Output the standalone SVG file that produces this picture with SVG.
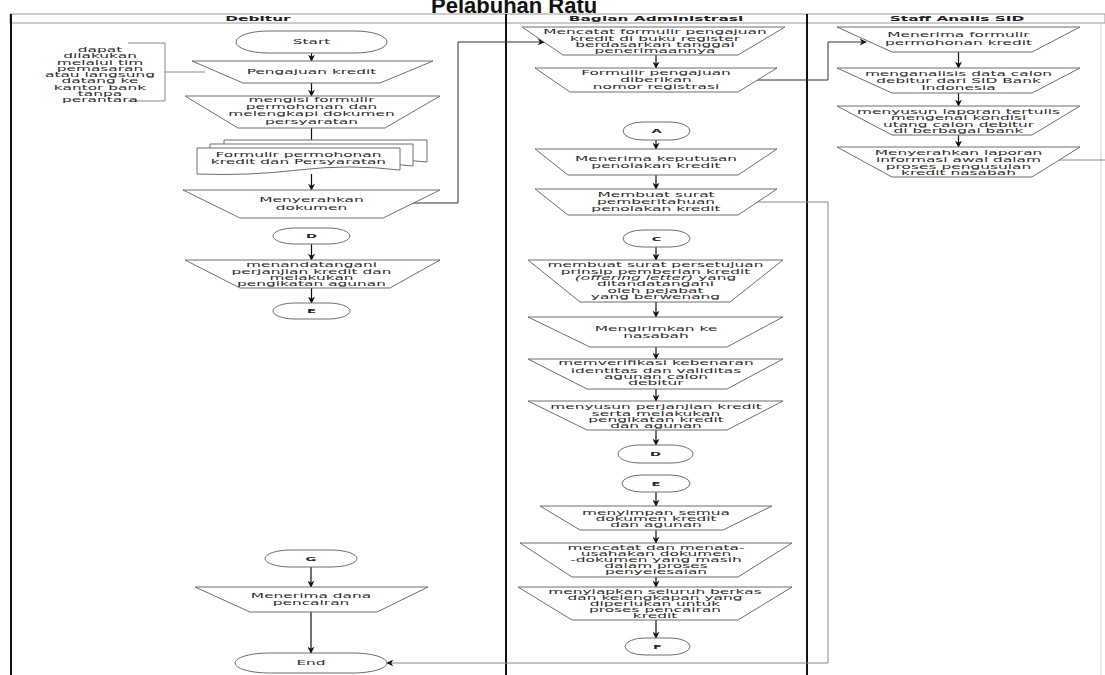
<svg xmlns="http://www.w3.org/2000/svg" width="1105" height="675" viewBox="0 0 1105 675">
<style>
.bg{fill:#fff}
.sh{fill:#fff;stroke:#6e6e6e;stroke-width:1}
.lane{stroke:#111;stroke-width:2;fill:none}
.hdr{fill:#fff;stroke:#9a9a9a;stroke-width:1}
.t{font-family:"DejaVu Sans",sans-serif;font-size:7px;fill:#2a2a2a;text-anchor:middle}
.h{font-family:"DejaVu Sans",sans-serif;font-size:7px;font-weight:bold;fill:#222;text-anchor:middle}
.o{font-family:"DejaVu Sans",sans-serif;font-size:6px;font-weight:bold;fill:#222;text-anchor:middle}
.title{font-family:"Liberation Sans",Arial,sans-serif;font-size:22px;font-weight:bold;fill:#111}
.c{fill:none;stroke:#111;stroke-width:1.2}
.cg{fill:none;stroke:#8a8a8a;stroke-width:1}
.cd{fill:none;stroke:#333;stroke-width:1}
</style>
<defs>
<marker id="ah" viewBox="0 0 10 10" refX="9" refY="5" markerWidth="7" markerHeight="7" orient="auto" markerUnits="userSpaceOnUse">
<path d="M0,0 L10,5 L0,10 L3,5 z" fill="#111"/>
</marker>
</defs>
<rect class="bg" x="0" y="0" width="1105" height="675"/>
<text class="title" x="431" y="12.5">Pelabuhan Ratu</text>

<g id="lanes">
<rect class="hdr" x="10" y="14" width="1095" height="9"/>
<line x1="1101" y1="23" x2="1101" y2="675" stroke="#d6d6d6" stroke-width="1"/>
<line class="lane" x1="11" y1="14" x2="11" y2="675"/>
<line class="lane" x1="506" y1="14" x2="506" y2="675"/>
<line class="lane" x1="807" y1="14" x2="807" y2="675"/>
<g transform="translate(258 0) scale(2.2 1)"><text class="h" x="0" y="21">Debitur</text></g>
<g transform="translate(656 0) scale(2.2 1)"><text class="h" x="0" y="21">Bagian Administrasi</text></g>
<g transform="translate(957 0) scale(2.2 1)"><text class="h" x="0" y="21">Staff Analis SID</text></g>
</g>

<g id="connectors">
<line class="c" x1="311.5" y1="53" x2="311.5" y2="61" marker-end="url(#ah)"/>
<line class="c" x1="311.5" y1="83" x2="311.5" y2="96" marker-end="url(#ah)"/>
<line class="c" x1="311.5" y1="128" x2="311.5" y2="147" marker-end="url(#ah)"/>
<line class="c" x1="311.5" y1="174" x2="311.5" y2="190" marker-end="url(#ah)"/>
<line class="c" x1="311.5" y1="244" x2="311.5" y2="260" marker-end="url(#ah)"/>
<line class="c" x1="311.5" y1="288" x2="311.5" y2="303" marker-end="url(#ah)"/>
<line class="c" x1="311" y1="567" x2="311" y2="587" marker-end="url(#ah)"/>
<line class="c" x1="311" y1="612" x2="311" y2="653" marker-end="url(#ah)"/>
<polyline class="cd" points="413,203 458,203 458,42 544,42" marker-end="url(#ah)"/>
<line class="c" x1="656" y1="55" x2="656" y2="68" marker-end="url(#ah)"/>
<polyline class="cd" points="757,80 828,80 828,42 866,42" marker-end="url(#ah)"/>
<line class="c" x1="656" y1="140" x2="656" y2="149" marker-end="url(#ah)"/>
<line class="c" x1="656" y1="175" x2="656" y2="189" marker-end="url(#ah)"/>
<polyline class="cg" points="757,202 828,202 828,663 387,663" marker-end="url(#ah)"/>
<line class="c" x1="656" y1="247" x2="656" y2="260" marker-end="url(#ah)"/>
<line class="c" x1="656" y1="302" x2="656" y2="317" marker-end="url(#ah)"/>
<line class="c" x1="656" y1="347" x2="656" y2="359" marker-end="url(#ah)"/>
<line class="c" x1="656" y1="389" x2="656" y2="401" marker-end="url(#ah)"/>
<line class="c" x1="656" y1="430" x2="656" y2="445" marker-end="url(#ah)"/>
<line class="c" x1="656" y1="492" x2="656" y2="506" marker-end="url(#ah)"/>
<line class="c" x1="656" y1="530" x2="656" y2="543" marker-end="url(#ah)"/>
<line class="c" x1="656" y1="577" x2="656" y2="587" marker-end="url(#ah)"/>
<line class="c" x1="656" y1="620" x2="656" y2="638" marker-end="url(#ah)"/>
<line class="c" x1="958.5" y1="52" x2="958.5" y2="68" marker-end="url(#ah)"/>
<line class="c" x1="958.5" y1="93" x2="958.5" y2="106" marker-end="url(#ah)"/>
<line class="c" x1="958.5" y1="135" x2="958.5" y2="147" marker-end="url(#ah)"/>
<line class="cg" x1="1059" y1="160" x2="1105" y2="160"/>
</g>

<g id="n-note">
<path class="cg" d="M128,43 H165 V101 H128 M165,72 H205"/>
<g transform="translate(100 0) scale(2.2 1)"><text class="t">
<tspan x="0" y="52">dapat</tspan><tspan x="0" y="58.3">dilakukan</tspan><tspan x="0" y="64.6">melalui tim</tspan><tspan x="0" y="70.9">pemasaran</tspan><tspan x="0" y="77.2">atau langsung</tspan><tspan x="0" y="83.5">datang ke</tspan><tspan x="0" y="89.8">kantor bank</tspan><tspan x="0" y="96.1">tanpa</tspan><tspan x="0" y="102.4">perantara</tspan>
</text></g>
</g>

<g id="n-start">
<rect class="sh" x="236" y="31" width="151" height="22" rx="32" ry="11"/>
<g transform="translate(311.5 0) scale(2.2 1)"><text class="t" x="0" y="44.5">Start</text></g>
</g>
<g id="n-pengajuan">
<polygon class="sh" points="192,61 433,61 380,83 243,83"/>
<g transform="translate(311.5 0) scale(2.2 1)"><text class="t" x="0" y="74.5">Pengajuan kredit</text></g>
</g>
<g id="n-mengisi">
<polygon class="sh" points="185,96 440,96 385,128 238,128"/>
<g transform="translate(311.5 0) scale(2.2 1)"><text class="t"><tspan x="0" y="102.5">mengisi formulir</tspan><tspan x="0" y="109.5">permohonan dan</tspan><tspan x="0" y="116.5">melengkapi dokumen</tspan><tspan x="0" y="124">persyaratan</tspan></text></g>
</g>
<g id="n-formulir-doc">
<path class="sh" d="M224,140 H427 V162 Q376,156 325.5,162 T224,164 Z"/>
<path class="sh" d="M210,144 H413 V166 Q362,160 311.5,166 T210,168 Z"/>
<path class="sh" d="M197,148 H400 V170 Q349,164 298.5,170 T197,174 Z" stroke-width="1.3"/>
<g transform="translate(298.5 0) scale(2.2 1)"><text class="t"><tspan x="0" y="157.5">Formulir permohonan</tspan><tspan x="0" y="164.5">kredit dan Persyaratan</tspan></text></g>
</g>
<g id="n-menyerahkan">
<polygon class="sh" points="183,190 440,190 383,218 240,218"/>
<g transform="translate(311.5 0) scale(2.2 1)"><text class="t"><tspan x="0" y="202.5">Menyerahkan</tspan><tspan x="0" y="210">dokumen</tspan></text></g>
</g>
<g id="n-d1">
<rect class="sh" x="273" y="228" width="77" height="16" rx="22" ry="8"/>
<g transform="translate(311.5 0) scale(2.2 1)"><text class="o" x="0" y="238.2">D</text></g>
</g>
<g id="n-menandatangani">
<polygon class="sh" points="185,260 440,260 390,288 240,288"/>
<g transform="translate(311.5 0) scale(2.2 1)"><text class="t"><tspan x="0" y="267.2">menandatangani</tspan><tspan x="0" y="273.6">perjanjian kredit dan</tspan><tspan x="0" y="279.8">melakukan</tspan><tspan x="0" y="286">pengikatan agunan</tspan></text></g>
</g>
<g id="n-e1">
<rect class="sh" x="273" y="303" width="77" height="16" rx="22" ry="8"/>
<g transform="translate(311.5 0) scale(2.2 1)"><text class="o" x="0" y="313.2">E</text></g>
</g>
<g id="n-g">
<rect class="sh" x="265" y="550" width="92" height="17" rx="26" ry="8.5"/>
<g transform="translate(311 0) scale(2.2 1)"><text class="o" x="0" y="560.7">G</text></g>
</g>
<g id="n-menerima-dana">
<polygon class="sh" points="195,587 428,587 377,612 250,612"/>
<g transform="translate(311 0) scale(2.2 1)"><text class="t"><tspan x="0" y="598.5">Menerima dana</tspan><tspan x="0" y="605.5">pencairan</tspan></text></g>
</g>
<g id="n-end">
<rect class="sh" x="235" y="653" width="152" height="20" rx="34" ry="10"/>
<g transform="translate(311 0) scale(2.2 1)"><text class="t" x="0" y="665.5">End</text></g>
</g>

<g id="a-mencatat">
<polygon class="sh" points="522,27 785,27 738,55 563,55"/>
<g transform="translate(655 0) scale(2.2 1)"><text class="t"><tspan x="0" y="34.5">Mencatat formulir pengajuan</tspan><tspan x="0" y="41">kredit di buku register</tspan><tspan x="0" y="47.5">berdasarkan tanggal</tspan><tspan x="0" y="53.5">penerimaannya</tspan></text></g>
</g>
<g id="a-nomor">
<polygon class="sh" points="535,68 777,68 738,92 570,92"/>
<g transform="translate(656 0) scale(2.2 1)"><text class="t"><tspan x="0" y="75.5">Formulir pengajuan</tspan><tspan x="0" y="82.3">diberikan</tspan><tspan x="0" y="89.2">nomor registrasi</tspan></text></g>
</g>
<g id="a-a">
<rect class="sh" x="623" y="122" width="67" height="18" rx="20" ry="9"/>
<g transform="translate(656.5 0) scale(2.2 1)"><text class="o" x="0" y="133.2">A</text></g>
</g>
<g id="a-keputusan">
<polygon class="sh" points="535,149 777,149 738,175 568,175"/>
<g transform="translate(656 0) scale(2.2 1)"><text class="t"><tspan x="0" y="161.5">Menerima keputusan</tspan><tspan x="0" y="168.5">penolakan kredit</tspan></text></g>
</g>
<g id="a-surat-tolak">
<polygon class="sh" points="535,189 777,189 738,215 568,215"/>
<g transform="translate(656 0) scale(2.2 1)"><text class="t"><tspan x="0" y="197.5">Membuat surat</tspan><tspan x="0" y="204.2">pemberitahuan</tspan><tspan x="0" y="210.8">penolakan kredit</tspan></text></g>
</g>
<g id="a-c">
<rect class="sh" x="623" y="230" width="67" height="17" rx="20" ry="8.5"/>
<g transform="translate(656.5 0) scale(2.2 1)"><text class="o" x="0" y="240.7">C</text></g>
</g>
<g id="a-persetujuan">
<polygon class="sh" points="528,260 783,260 730,302 580,302"/>
<g transform="translate(655.5 0) scale(2.2 1)"><text class="t"><tspan x="0" y="267.5">membuat surat persetujuan</tspan><tspan x="0" y="273.8">prinsip pemberian kredit</tspan><tspan x="0" y="280.1"><tspan font-style="italic">(offering letter)</tspan> yang</tspan><tspan x="0" y="286.4">ditandatangani</tspan><tspan x="0" y="292.7">oleh pejabat</tspan><tspan x="0" y="299">yang berwenang</tspan></text></g>
</g>
<g id="a-kirim">
<polygon class="sh" points="528,317 783,317 727,347 590,347"/>
<g transform="translate(656 0) scale(2.2 1)"><text class="t"><tspan x="0" y="331.5">Mengirimkan ke</tspan><tspan x="0" y="338">nasabah</tspan></text></g>
</g>
<g id="a-verifikasi">
<polygon class="sh" points="528,359 783,359 727,389 587,389"/>
<g transform="translate(656 0) scale(2.2 1)"><text class="t"><tspan x="0" y="365.5">memverifikasi kebenaran</tspan><tspan x="0" y="372.7">identitas dan validitas</tspan><tspan x="0" y="379">agunan calon</tspan><tspan x="0" y="385.3">debitur</tspan></text></g>
</g>
<g id="a-perjanjian">
<polygon class="sh" points="528,401 783,401 727,430 587,430"/>
<g transform="translate(656 0) scale(2.2 1)"><text class="t"><tspan x="0" y="409.5">menyusun perjanjian kredit</tspan><tspan x="0" y="415.7">serta melakukan</tspan><tspan x="0" y="421.9">pengikatan kredit</tspan><tspan x="0" y="428">dan agunan</tspan></text></g>
</g>
<g id="a-d">
<rect class="sh" x="618" y="445" width="75" height="18" rx="22" ry="9"/>
<g transform="translate(655.5 0) scale(2.2 1)"><text class="o" x="0" y="456.2">D</text></g>
</g>
<g id="a-e">
<rect class="sh" x="622" y="475" width="68" height="17" rx="20" ry="8.5"/>
<g transform="translate(656 0) scale(2.2 1)"><text class="o" x="0" y="485.7">E</text></g>
</g>
<g id="a-simpan">
<polygon class="sh" points="540,506 772,506 723,530 580,530"/>
<g transform="translate(656 0) scale(2.2 1)"><text class="t"><tspan x="0" y="515.5">menyimpan semua</tspan><tspan x="0" y="521.5">dokumen kredit</tspan><tspan x="0" y="527.5">dan agunan</tspan></text></g>
</g>
<g id="a-menata">
<polygon class="sh" points="520,543 792,543 738,577 572,577"/>
<g transform="translate(656 0) scale(2.2 1)"><text class="t"><tspan x="0" y="550.5">mencatat dan menata-</tspan><tspan x="0" y="556.5">usahakan dokumen</tspan><tspan x="0" y="562.5">-dokumen yang masih</tspan><tspan x="0" y="568.5">dalam proses</tspan><tspan x="0" y="574.5">penyelesaian</tspan></text></g>
</g>
<g id="a-siapkan">
<polygon class="sh" points="518,587 792,587 738,620 572,620"/>
<g transform="translate(655 0) scale(2.2 1)"><text class="t"><tspan x="0" y="594.5">menyiapkan seluruh berkas</tspan><tspan x="0" y="600.5">dan kelengkapan yang</tspan><tspan x="0" y="606.5">diperlukan untuk</tspan><tspan x="0" y="612.5">proses pencairan</tspan><tspan x="0" y="618.5">kredit</tspan></text></g>
</g>
<g id="a-f">
<rect class="sh" x="625" y="638" width="65" height="17" rx="20" ry="8.5"/>
<g transform="translate(657.5 0) scale(2.2 1)"><text class="o" x="0" y="648.7">F</text></g>
</g>

<g id="s-terima">
<polygon class="sh" points="837,27 1080,27 1032,52 892,52"/>
<g transform="translate(958.5 0) scale(2.2 1)"><text class="t"><tspan x="0" y="37.5">Menerima formulir</tspan><tspan x="0" y="45">permohonan kredit</tspan></text></g>
</g>
<g id="s-analisis">
<polygon class="sh" points="837,68 1080,68 1032,93 892,93"/>
<g transform="translate(958.5 0) scale(2.2 1)"><text class="t"><tspan x="0" y="76.5">menganalisis data calon</tspan><tspan x="0" y="83.5">debitur dari SID Bank</tspan><tspan x="0" y="90.3">Indonesia</tspan></text></g>
</g>
<g id="s-laporan">
<polygon class="sh" points="837,106 1080,106 1032,135 892,135"/>
<g transform="translate(958.5 0) scale(2.2 1)"><text class="t"><tspan x="0" y="114">menyusun laporan tertulis</tspan><tspan x="0" y="120.3">mengenai kondisi</tspan><tspan x="0" y="126.6">utang calon debitur</tspan><tspan x="0" y="132.9">di berbagai bank</tspan></text></g>
</g>
<g id="s-serah">
<polygon class="sh" points="837,147 1080,147 1032,177 892,177"/>
<g transform="translate(958.5 0) scale(2.2 1)"><text class="t"><tspan x="0" y="155.5">Menyerahkan laporan</tspan><tspan x="0" y="162.3">informasi awal dalam</tspan><tspan x="0" y="169">proses pengusulan</tspan><tspan x="0" y="175.3">kredit nasabah</tspan></text></g>
</g>
</svg>
